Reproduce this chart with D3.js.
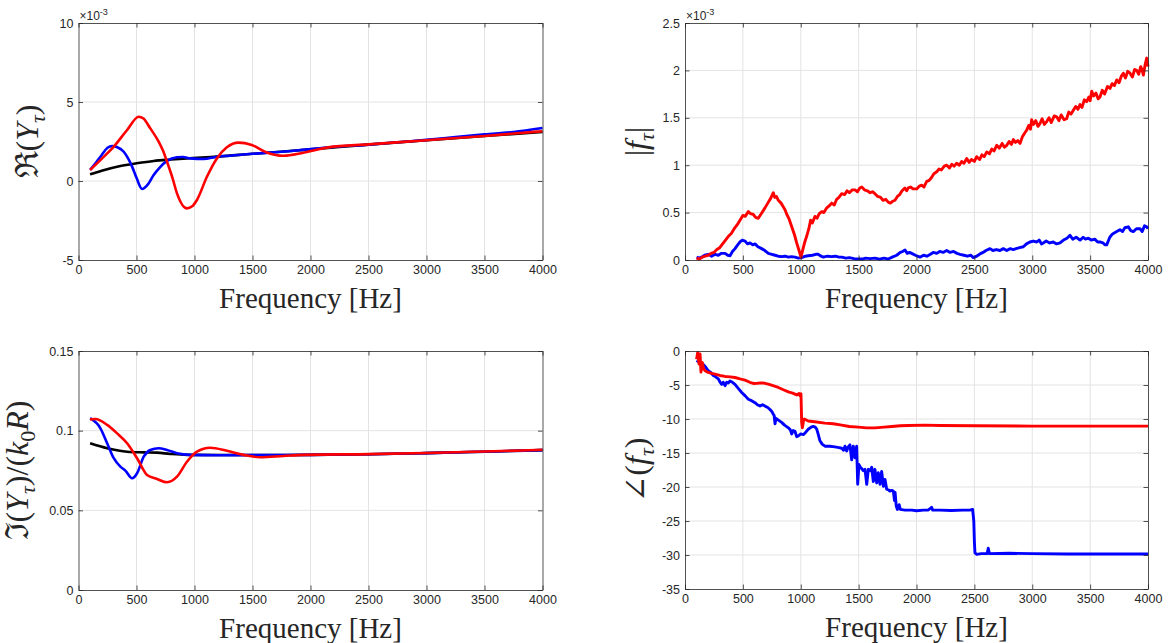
<!DOCTYPE html>
<html>
<head>
<meta charset="utf-8">
<script src="https://cdn.jsdelivr.net/npm/d3@7"></script>
<style>
  body { margin: 0; background: #fff; }
  svg { display: block; }
  .tick text { font-family: "Liberation Sans", Arial, sans-serif; font-size: 12.5px; fill: #262626; }
  .lbl { font-family: "Liberation Serif", "DejaVu Serif", serif; fill: #262626; }
</style>
</head>
<body>
<svg id="chart" width="1169" height="643"></svg>
<script>
const freqTicks = [0, 500, 1000, 1500, 2000, 2500, 3000, 3500, 4000]

// Re(Y_tau), units of 1e-3
const reTicks = [-5, 0, 5, 10]
const reBlack = [[100,0.42],[200,0.65],[361,0.95],[500,1.12],[648,1.27],[800,1.36],[935,1.43],[1193,1.54],[1500,1.72],[2000,2.0],[2500,2.3],[3000,2.58],[3500,2.85],[4000,3.1]]
const reBlue = [[100,0.7],[150,1.15],[200,1.65],[250,2.1],[290,2.21],[330,2.15],[390,1.85],[430,1.4],[462,0.91],[500,0.2],[548,-0.51],[600,-0.2],[648,0.38],[700,0.85],[763,1.27],[849,1.5],[900,1.52],[963,1.43],[1078,1.39],[1193,1.54],[1300,1.6],[1500,1.72],[1750,1.85],[2000,2.02],[2250,2.18],[2500,2.3],[2750,2.45],[3000,2.6],[3250,2.78],[3500,2.95],[3750,3.1],[4000,3.35]]
const reRed = [[100,0.7],[200,1.4],[304,2.17],[419,3.23],[519,4.07],[560,3.95],[619,3.33],[691,2.49],[730,1.9],[763,1.22],[810,0.2],[849,-0.78],[935,-1.73],[980,-1.6],[1021,-1.2],[1107,0.27],[1193,1.43],[1279,2.13],[1379,2.43],[1494,2.28],[1623,1.81],[1766,1.6],[1938,1.79],[2153,2.13],[2500,2.32],[3000,2.58],[3500,2.85],[4000,3.15]]

// Im(Y_tau)/(k0 R)
const imTicks = [0, 0.05, 0.1, 0.15]
const imBlack = [[100,0.0921],[247,0.089],[419,0.0868],[562,0.0864],[677,0.0862],[791,0.0854],[935,0.0848],[1500,0.0847],[2000,0.0848],[2500,0.0852],[3000,0.0859],[3500,0.0868],[4000,0.0878]]
const imBlue = [[100,0.1078],[189,0.1015],[247,0.0921],[304,0.0827],[361,0.0774],[404,0.0749],[462,0.0701],[505,0.0733],[562,0.0837],[619,0.0879],[691,0.089],[763,0.0879],[849,0.0858],[963,0.0848],[1200,0.0846],[1500,0.0847],[2000,0.0848],[2500,0.0852],[3000,0.0859],[3500,0.0868],[4000,0.0878]]
const imRed = [[100,0.1071],[146,0.1073],[247,0.1036],[333,0.0983],[419,0.0921],[505,0.0827],[591,0.0722],[677,0.0697],[763,0.0676],[849,0.0711],[935,0.0805],[1021,0.0868],[1135,0.0893],[1279,0.0874],[1422,0.0848],[1566,0.0833],[1766,0.0841],[1938,0.0848],[2500,0.0853],[3000,0.086],[3500,0.0869],[4000,0.088]]

// |f_tau|, units of 1e-3
const magTicks = [0, 0.5, 1, 1.5, 2, 2.5]
const magBlue = [[100,0.03],[120,0.02],[144,0.03],[170,0.05],[201,0.06],[230,0.04],[260,0.06],[288,0.05],[315,0.07],[346,0.07],[370,0.05],[389,0.045],[410,0.09],[432,0.12],[455,0.16],[475,0.19],[495,0.21],[518,0.2],[540,0.17],[562,0.18],[585,0.16],[605,0.17],[630,0.14],[662,0.12],[690,0.1],[720,0.07],[750,0.06],[778,0.05],[805,0.04],[835,0.035],[865,0.04],[893,0.03],[920,0.035],[950,0.03],[980,0.02],[1008,0.025],[1040,0.04],[1065,0.045],[1100,0.05],[1130,0.06],[1152,0.06],[1175,0.04],[1195,0.03],[1230,0.04],[1267,0.035],[1300,0.04],[1330,0.03],[1354,0.03],[1390,0.02],[1420,0.025],[1460,0.015],[1497,0.01],[1530,0.01],[1560,0.02],[1600,0.015],[1641,0.02],[1680,0.01],[1720,0.02],[1756,0.01],[1790,0.03],[1829,0.05],[1860,0.08],[1880,0.09],[1901,0.105],[1920,0.07],[1940,0.08],[1958,0.07],[1990,0.05],[2030,0.03],[2060,0.05],[2090,0.04],[2120,0.06],[2145,0.08],[2175,0.07],[2200,0.09],[2230,0.08],[2261,0.1],[2290,0.08],[2320,0.09],[2350,0.07],[2376,0.06],[2410,0.05],[2440,0.04],[2470,0.05],[2491,0.025],[2520,0.04],[2549,0.065],[2575,0.08],[2600,0.1],[2635,0.12],[2660,0.1],[2690,0.11],[2721,0.1],[2750,0.12],[2780,0.1],[2810,0.12],[2836,0.11],[2860,0.12],[2890,0.13],[2923,0.14],[2950,0.17],[2980,0.19],[3009,0.2],[3040,0.19],[3060,0.21],[3080,0.17],[3095,0.18],[3120,0.2],[3150,0.18],[3182,0.19],[3210,0.17],[3240,0.18],[3270,0.21],[3300,0.23],[3326,0.26],[3350,0.22],[3380,0.24],[3413,0.21],[3440,0.24],[3460,0.22],[3484,0.23],[3510,0.21],[3540,0.22],[3565,0.19],[3585,0.19],[3610,0.18],[3630,0.16],[3643,0.16],[3670,0.24],[3690,0.27],[3701,0.28],[3730,0.3],[3758,0.32],[3780,0.3],[3800,0.34],[3830,0.35],[3850,0.31],[3873,0.3],[3900,0.33],[3931,0.33],[3950,0.3],[3970,0.36],[3989,0.35],[4000,0.33]]
const magRed = [[100,0.02],[125,0.01],[150,0.03],[175,0.04],[200,0.05],[225,0.07],[250,0.08],[275,0.11],[300,0.13],[325,0.17],[350,0.21],[375,0.25],[400,0.28],[425,0.33],[450,0.37],[475,0.42],[500,0.47],[520,0.46],[547,0.51],[565,0.49],[590,0.48],[610,0.45],[633,0.44],[660,0.49],[691,0.55],[715,0.6],[740,0.65],[763,0.71],[775,0.66],[790,0.67],[806,0.63],[830,0.6],[850,0.56],[864,0.53],[880,0.48],[900,0.43],[922,0.35],[945,0.27],[965,0.18],[985,0.1],[1002,0.03],[1020,0.12],[1035,0.19],[1051,0.25],[1070,0.33],[1085,0.42],[1100,0.39],[1123,0.46],[1140,0.44],[1160,0.49],[1181,0.51],[1200,0.5],[1225,0.55],[1245,0.57],[1267,0.6],[1290,0.58],[1310,0.64],[1330,0.66],[1354,0.7],[1380,0.69],[1400,0.73],[1420,0.71],[1445,0.74],[1469,0.74],[1490,0.72],[1510,0.76],[1527,0.77],[1550,0.74],[1575,0.73],[1600,0.71],[1620,0.72],[1641,0.7],[1665,0.67],[1690,0.66],[1710,0.63],[1735,0.64],[1756,0.61],[1775,0.6],[1795,0.62],[1814,0.63],[1835,0.67],[1855,0.69],[1875,0.73],[1900,0.76],[1915,0.73],[1929,0.76],[1950,0.77],[1970,0.75],[2002,0.75],[2025,0.78],[2045,0.79],[2065,0.77],[2088,0.83],[2110,0.84],[2130,0.87],[2150,0.91],[2175,0.93],[2195,0.96],[2215,0.95],[2240,0.99],[2261,1.0],[2285,0.97],[2305,1.01],[2325,0.99],[2347,1.02],[2370,1.0],[2390,1.04],[2410,1.02],[2434,1.07],[2455,1.03],[2475,1.06],[2500,1.04],[2520,1.09],[2545,1.06],[2565,1.11],[2585,1.09],[2607,1.14],[2630,1.12],[2650,1.17],[2670,1.15],[2693,1.21],[2715,1.18],[2740,1.23],[2760,1.19],[2780,1.21],[2800,1.25],[2820,1.22],[2837,1.27],[2855,1.24],[2875,1.26],[2894,1.23],[2915,1.3],[2935,1.34],[2952,1.37],[2970,1.42],[2985,1.38],[2995,1.48],[3010,1.43],[3030,1.47],[3050,1.41],[3067,1.44],[3085,1.49],[3105,1.43],[3125,1.46],[3145,1.5],[3165,1.45],[3190,1.52],[3211,1.51],[3230,1.47],[3250,1.53],[3275,1.48],[3297,1.49],[3315,1.56],[3335,1.54],[3355,1.58],[3375,1.62],[3395,1.59],[3413,1.64],[3430,1.61],[3450,1.69],[3470,1.67],[3490,1.72],[3500,1.68],[3514,1.78],[3530,1.73],[3550,1.76],[3570,1.7],[3585,1.72],[3605,1.79],[3625,1.75],[3650,1.83],[3672,1.81],[3690,1.86],[3710,1.84],[3730,1.9],[3750,1.87],[3770,1.94],[3787,1.97],[3805,1.92],[3825,1.99],[3845,1.97],[3865,1.93],[3885,2.01],[3902,2.0],[3920,1.96],[3937,2.04],[3950,2.0],[3960,1.95],[3975,2.06],[3989,2.13],[4000,2.04]]

// angle(f_tau)
const angTicks = [-35, -30, -25, -20, -15, -10, -5, 0]
const angBlue = [[100,-1.4],[130,-1.7],[158,-2.0],[180,-2.4],[201,-2.9],[225,-3.2],[245,-3.6],[265,-3.8],[288,-4.1],[300,-4.5],[317,-4.9],[330,-4.6],[346,-5.1],[360,-4.6],[375,-4.7],[389,-4.4],[410,-4.6],[432,-4.9],[460,-5.5],[490,-6.1],[520,-6.6],[547,-7.1],[575,-7.3],[605,-7.6],[625,-7.9],[648,-8.1],[670,-7.9],[691,-8.1],[715,-8.3],[734,-8.6],[750,-8.9],[763,-9.3],[770,-9.5],[778,-10.7],[786,-9.9],[810,-10.2],[835,-10.5],[860,-10.9],[893,-11.3],[910,-11.6],[922,-12.2],[935,-11.7],[950,-11.8],[965,-12.6],[979,-12.5],[1000,-12.2],[1022,-12.3],[1045,-11.9],[1065,-11.5],[1090,-11.2],[1108,-11.1],[1125,-11.2],[1138,-11.5],[1150,-12.2],[1166,-13.2],[1185,-13.7],[1209,-14.0],[1250,-14.0],[1296,-14.1],[1330,-14.2],[1354,-14.3],[1370,-14.6],[1382,-14.0],[1397,-14.7],[1410,-14.1],[1425,-13.8],[1440,-16.0],[1454,-14.0],[1469,-15.7],[1483,-14.0],[1492,-19.6],[1503,-16.7],[1515,-17.1],[1527,-17.3],[1540,-17.6],[1555,-17.4],[1570,-19.6],[1584,-17.4],[1600,-17.6],[1613,-17.1],[1627,-19.2],[1641,-17.4],[1656,-19.4],[1670,-17.9],[1685,-19.6],[1699,-17.7],[1714,-19.9],[1728,-18.9],[1742,-20.3],[1756,-20.4],[1770,-20.6],[1786,-20.5],[1800,-20.6],[1810,-22.0],[1815,-20.8],[1825,-22.8],[1835,-23.3],[1850,-22.6],[1860,-23.3],[1900,-23.4],[1960,-23.4],[2000,-23.5],[2060,-23.4],[2100,-23.4],[2131,-23.0],[2140,-23.4],[2200,-23.4],[2300,-23.45],[2400,-23.4],[2460,-23.4],[2485,-23.3],[2495,-25.0],[2500,-28.0],[2505,-29.7],[2520,-29.9],[2560,-29.8],[2610,-29.8],[2620,-29.0],[2630,-29.8],[2800,-29.75],[3000,-29.8],[3300,-29.85],[3600,-29.85],[4000,-29.85]]
const angRed = [[100,-1.2],[110,-0.2],[121,-1.9],[130,-0.45],[138,-3.1],[150,-1.7],[160,-2.6],[173,-2.9],[201,-3.15],[230,-3.3],[259,-3.4],[300,-3.6],[346,-3.74],[390,-3.8],[432,-3.9],[475,-4.1],[518,-4.28],[560,-4.6],[590,-4.77],[625,-4.75],[662,-4.68],[690,-4.75],[720,-4.87],[760,-5.1],[806,-5.36],[850,-5.7],[893,-6.01],[930,-6.2],[965,-6.46],[985,-6.25],[995,-6.6],[1002,-6.3],[1008,-10.5],[1014,-11.3],[1019,-10.8],[1025,-10.1],[1031,-10.0],[1065,-10.3],[1120,-10.4],[1209,-10.6],[1280,-10.7],[1354,-10.9],[1420,-11.1],[1497,-11.2],[1570,-11.3],[1641,-11.3],[1720,-11.2],[1786,-11.1],[1860,-11.0],[1929,-10.95],[2073,-10.9],[2200,-10.95],[2500,-11.0],[3000,-11.05],[3500,-11.05],[4000,-11.05]]

const BLUE = '#0000ff', RED = '#ff0000', BLACK = '#000000'
const AXIS = '#262626'

const svg = d3.select('#chart')

const panels = [
  { left: 78.5, top: 23, right: 542.5, bottom: 260, yDomain: [-5, 10], yTicks: reTicks, exp: true, smooth: true,
    series: [[reBlack, BLACK], [reBlue, BLUE], [reRed, RED]],
    ylabel: [['ℜ(', 'n'], ['Y', 'i'], ['τ', 's'], [')', 'n']], ylx: 38 },
  { left: 685, top: 23, right: 1148, bottom: 260, yDomain: [0, 2.5], yTicks: magTicks, exp: true, smooth: false,
    series: [[magBlue, BLUE], [magRed, RED]],
    ylabel: [['|', 'n'], ['f', 'i'], ['τ', 's'], ['|', 'n']], ylx: 647 },
  { left: 78.5, top: 351, right: 542.5, bottom: 590, yDomain: [0, 0.15], yTicks: imTicks, exp: false, smooth: true,
    series: [[imBlack, BLACK], [imBlue, BLUE], [imRed, RED]],
    ylabel: [['ℑ(', 'n'], ['Y', 'i'], ['τ', 's'], [')/(', 'n'], ['k', 'i'], ['0', 's'], ['R', 'i'], [')', 'n']], ylx: 28 },
  { left: 685, top: 351, right: 1148, bottom: 589, yDomain: [-35, 0], yTicks: angTicks, exp: false, smooth: false,
    series: [[angBlue, BLUE], [angRed, RED]],
    ylabel: [['∠(', 'n'], ['f', 'i'], ['τ', 's'], [')', 'n']], ylx: 647 },
]

panels.forEach(p => {
  const x = d3.scaleLinear().domain([0, 4000]).range([p.left, p.right])
  const y = d3.scaleLinear().domain(p.yDomain).range([p.bottom, p.top])
  const g = svg.append('g')

  // grid
  g.append('g').selectAll('line').data(freqTicks.slice(1, -1)).join('line')
    .attr('x1', d => x(d)).attr('x2', d => x(d))
    .attr('y1', p.top).attr('y2', p.bottom)
    .attr('stroke', '#e3e3e3').attr('stroke-width', 1)
  g.append('g').selectAll('line').data(p.yTicks.slice(1, -1)).join('line')
    .attr('y1', d => y(d)).attr('y2', d => y(d))
    .attr('x1', p.left).attr('x2', p.right)
    .attr('stroke', '#e3e3e3').attr('stroke-width', 1)

  // data
  const line = d3.line()
    .x(d => x(d[0]))
    .y(d => y(d[1]))
    .curve(p.smooth ? d3.curveMonotoneX : d3.curveLinear)
  p.series.forEach(([data, color]) => {
    g.append('path')
      .datum(data)
      .attr('d', line)
      .attr('fill', 'none')
      .attr('stroke', color)
      .attr('stroke-width', p.smooth ? 2.6 : 2.9)
      .attr('stroke-linejoin', 'round')
  })

  // axes (ticks inward, full box)
  const fmt = d => String(d)
  const ax = [
    [d3.axisBottom(x).tickValues(freqTicks).tickFormat(fmt), p.bottom, 0],
    [d3.axisTop(x).tickValues(freqTicks).tickFormat(''), p.top, 0],
    [d3.axisLeft(y).tickValues(p.yTicks).tickFormat(fmt), 0, p.left],
    [d3.axisRight(y).tickValues(p.yTicks).tickFormat(''), 0, p.right],
  ]
  ax.forEach(([a, ty, tx]) => {
    a.tickSizeInner(-4.5).tickSizeOuter(0).tickPadding(5)
    const ag = g.append('g').attr('transform', `translate(${tx},${ty})`).call(a)
    ag.select('.domain').attr('stroke', AXIS).attr('stroke-width', 0.8)
    ag.selectAll('.tick line').attr('stroke', AXIS).attr('stroke-width', 0.8)
  })
  g.selectAll('.tick text').attr('font-family', null).attr('font-size', null)

  if (p.exp) {
    const t = g.append('text')
      .attr('x', p.left + 1).attr('y', p.top - 3.5)
      .attr('font-family', '"Liberation Sans", Arial, sans-serif')
      .attr('font-size', 12).attr('fill', AXIS)
    t.append('tspan').text('×10')
    t.append('tspan').attr('dy', -5).attr('font-size', 9).text('-3')
  }

  // x label
  g.append('text').attr('class', 'lbl')
    .attr('x', (p.left + p.right) / 2).attr('y', p.bottom + 48)
    .attr('text-anchor', 'middle').attr('font-size', 29)
    .text('Frequency [Hz]')

  // y label
  const yl = g.append('text').attr('class', 'lbl')
    .attr('transform', `translate(${p.ylx},${(p.top + p.bottom) / 2}) rotate(-90)`)
    .attr('text-anchor', 'middle').attr('font-size', 32)
  let shifted = false
  p.ylabel.forEach(([s, kind]) => {
    const ts = yl.append('tspan').text(s)
    if (kind === 'i') ts.attr('font-style', 'italic')
    if (kind === 's') {
      ts.attr('font-style', s === 'τ' ? 'italic' : null).attr('font-size', 22).attr('dy', 7)
      shifted = true
    } else if (shifted) {
      ts.attr('dy', -7)
      shifted = false
    }
  })
})
</script>
</body>
</html>
